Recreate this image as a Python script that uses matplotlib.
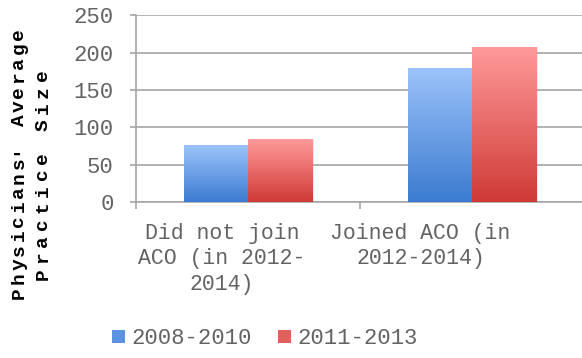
import numpy as np
import matplotlib
matplotlib.use("Agg")
import matplotlib.pyplot as plt
from matplotlib.colors import LinearSegmentedColormap
from matplotlib.patches import Patch
from matplotlib.transforms import blended_transform_factory

# ---- data ----
categories = ["Did not join\nACO (in 2012-\n2014)", "Joined ACO (in\n2012-2014)"]
series_names = ["2008-2010", "2011-2013"]
values_0810 = [76, 179]
values_1113 = [84, 207]
y_ticks = [0, 50, 100, 150, 200, 250]

# ---- style ----
FONT = "Liberation Mono"
GRID = "#a6a6a6"
TEXT = "#636363"
BLUE = ("#9cc3fb", "#3b7bcf")   # top, bottom of gradient
RED = ("#ff9a9a", "#cf3a36")
BAR_W = 0.286
LABEL_SHIFT = [-0.116, -0.23]   # category label offset from group centre

fig = plt.figure(figsize=(5.82, 3.58), dpi=100)
ax = fig.add_axes([136 / 582, 1 - 202 / 358, 448 / 582, (202 - 15.3) / 358])

x = np.arange(len(categories))
bars_a = ax.bar(x - BAR_W / 2, values_0810, BAR_W, facecolor="none", edgecolor="none", zorder=3)
bars_b = ax.bar(x + BAR_W / 2, values_1113, BAR_W, facecolor="none", edgecolor="none", zorder=3)


def fill_gradient(bars, colors):
    cmap = LinearSegmentedColormap.from_list("g", [colors[1], colors[0]])
    grad = np.linspace(0, 1, 256).reshape(-1, 1)
    for b in bars:
        x0, y0 = b.get_x(), b.get_y()
        w, h = b.get_width(), b.get_height()
        # soft drop shadow on the right side
        ax.bar(x0 + w / 2 + 0.008, h, w, bottom=y0, color="#000000", alpha=0.08,
               edgecolor="none", zorder=2)
        im = ax.imshow(grad, cmap=cmap, origin="lower", aspect="auto",
                       extent=(x0, x0 + w, y0, y0 + h), zorder=3,
                       interpolation="bicubic")
        im.set_clip_path(b)


fill_gradient(bars_a, BLUE)
fill_gradient(bars_b, RED)
ax.set_xlim(-0.5, len(categories) - 0.5)
ax.set_ylim(0, 250)

# ---- axes and grid ----
for s in ["top", "right"]:
    ax.spines[s].set_visible(False)
for s in ["left", "bottom"]:
    ax.spines[s].set_color(GRID)
    ax.spines[s].set_linewidth(1.2)
ax.set_yticks(y_ticks)
ax.yaxis.grid(True, color=GRID, linewidth=1.2, zorder=0)
ax.set_axisbelow(True)
ax.tick_params(axis="y", length=4, color=GRID, width=1.2, pad=12,
               labelsize=16, labelcolor=TEXT)
ax.set_yticklabels([str(v) for v in y_ticks], fontfamily=FONT)
ax.set_xticks(np.arange(len(categories) + 1) - 0.5)
ax.set_xticklabels([])
ax.tick_params(axis="x", length=5, color=GRID, width=1.2)

trans = blended_transform_factory(ax.transData, ax.transAxes)
for i, (lab, dx) in enumerate(zip(categories, LABEL_SHIFT)):
    ax.text(i + dx, -0.11, lab, transform=trans, ha="center", va="top",
            fontsize=15.5, color=TEXT, family=FONT, linespacing=1.3,
            multialignment="center")


# ---- y label, characters spread along each line ----
def spread_text_v(s, xc, y_start, y_end):
    # y_start is the pixel row of the first character (bottom), y_end of the last (top)
    pitch = (y_start - y_end) / len(s)
    for i, ch in enumerate(s):
        if ch == " ":
            continue
        yc = y_start - (i + 0.5) * pitch
        fig.text(xc / 582, 1 - yc / 358, ch, rotation=90, ha="center", va="center",
                 fontsize=14, fontweight="bold", family=FONT, color="#000000")


spread_text_v("Physicians' Average", 19, 300, 27)
spread_text_v("Practice Size", 43, 282, 67)

# ---- legend ----
handles = [Patch(facecolor="#5b93e0", edgecolor="none"),
           Patch(facecolor="#e0605c", edgecolor="none")]
fig.legend(handles, series_names, loc="center", bbox_to_anchor=(265 / 582, 1 - 339 / 358),
           ncol=2, frameon=False, prop={"family": FONT, "size": 16},
           labelcolor=TEXT, handlelength=0.55, handleheight=0.55,
           handletextpad=0.3, columnspacing=1.2, borderpad=0)

fig.savefig("out.png", dpi=100)
